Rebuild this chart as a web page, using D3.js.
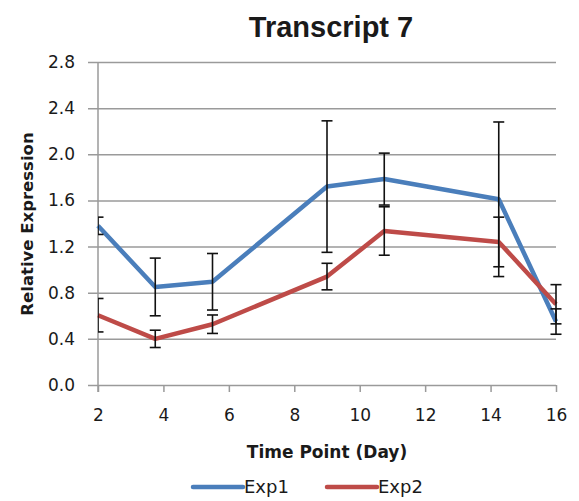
<!DOCTYPE html>
<html>
<head>
<meta charset="utf-8">
<script src="https://cdn.jsdelivr.net/npm/d3@7"></script>
<style>
  body { margin: 0; background: #fff; }
  text { fill: #1a1a1a; }
</style>
</head>
<body>
<div class="chart"></div>
<script>
var svgWidth = 579;
var svgHeight = 501;

// plot area edges
var margin = { top: 62, right: 23, bottom: 116, left: 98 };
var width = svgWidth - margin.left - margin.right;
var height = svgHeight - margin.top - margin.bottom;

// data
var days = [2, 3.75, 5.5, 9, 10.75, 14.25, 16];
var exp1 = [1.38, 0.85, 0.895, 1.72, 1.785, 1.61, 0.55];
var exp1Err = [0.075, 0.25, 0.245, 0.57, 0.225, 0.67, 0.11];
var exp2 = [0.605, 0.40, 0.527, 0.94, 1.335, 1.24, 0.70];
var exp2Err = [0.145, 0.075, 0.08, 0.115, 0.21, 0.215, 0.17];
var xTicks = [2, 4, 6, 8, 10, 12, 14, 16];
var yTicks = [0, 0.4, 0.8, 1.2, 1.6, 2.0, 2.4, 2.8];

var series = [
  { name: "Exp1", values: exp1, err: exp1Err, color: "#4a7ebb" },
  { name: "Exp2", values: exp2, err: exp2Err, color: "#be4b48" }
];

var svg = d3.select(".chart")
  .append("svg")
  .attr("width", svgWidth)
  .attr("height", svgHeight);

var chartGroup = svg.append("g")
  .attr("transform", `translate(${margin.left}, ${margin.top})`);

var xScale = d3.scaleLinear().domain([2, 16]).range([0, width]);
var yScale = d3.scaleLinear().domain([0, 2.8]).range([height, 0]);

// gridlines (also act as the y ticks)
var leftAxis = d3.axisLeft(yScale)
  .tickValues(yTicks)
  .tickSize(-width - 10)
  .tickPadding(0)
  .tickFormat(d3.format(".1f"));

var yAxis = chartGroup.append("g")
  .attr("transform", "translate(-10, 0)")
  .call(leftAxis);
yAxis.select(".domain").remove();
yAxis.selectAll(".tick line")
  .attr("x1", 0)
  .attr("stroke", "#9a9a9a")
  .attr("stroke-width", 1.5);
yAxis.selectAll(".tick text")
  .attr("x", -13)
  .attr("font-family", "DejaVu Sans")
  .attr("font-size", 17)
  .attr("fill", "#1a1a1a");

// x axis
var bottomAxis = d3.axisBottom(xScale)
  .tickValues(xTicks)
  .tickSize(7)
  .tickSizeOuter(0)
  .tickPadding(24);
var xAxis = chartGroup.append("g")
  .attr("transform", `translate(0, ${height})`)
  .call(bottomAxis);
xAxis.select(".domain").remove();
xAxis.selectAll(".tick line")
  .attr("stroke", "#9a9a9a")
  .attr("stroke-width", 1.5);
xAxis.selectAll(".tick text")
  .attr("font-family", "DejaVu Sans")
  .attr("font-size", 17)
  .attr("dy", "0.3em")
  .attr("fill", "#1a1a1a");

// vertical axis line
chartGroup.append("line")
  .attr("x1", xScale(2)).attr("x2", xScale(2))
  .attr("y1", 0).attr("y2", height + 7)
  .attr("stroke", "#9a9a9a")
  .attr("stroke-width", 1.5);

// clip so the first error bars show only their right half
chartGroup.append("clipPath")
  .attr("id", "plotClip")
  .append("rect")
  .attr("x", 0).attr("y", -10)
  .attr("width", width + 10).attr("height", height + 20);

var line = d3.line()
  .x((d, i) => xScale(days[i]))
  .y(d => yScale(d));

series.forEach(function(s) {
  var g = chartGroup.append("g");

  g.append("path")
    .datum(s.values)
    .attr("fill", "none")
    .attr("stroke", s.color)
    .attr("stroke-width", 4.5)
    .attr("stroke-linejoin", "round")
    .attr("d", line);

  var errGroup = g.append("g")
    .attr("clip-path", "url(#plotClip)")
    .attr("stroke", "#111")
    .attr("stroke-width", 1.6);

  var bars = errGroup.selectAll("g")
    .data(s.values.map((v, i) => ({ x: days[i], v: v, e: s.err[i] })))
    .enter().append("g");

  bars.append("line")
    .attr("x1", d => xScale(d.x)).attr("x2", d => xScale(d.x))
    .attr("y1", d => yScale(d.v + d.e)).attr("y2", d => yScale(d.v - d.e));
  bars.append("line")
    .attr("x1", d => xScale(d.x) - 5.5).attr("x2", d => xScale(d.x) + 5.5)
    .attr("y1", d => yScale(d.v + d.e)).attr("y2", d => yScale(d.v + d.e));
  bars.append("line")
    .attr("x1", d => xScale(d.x) - 5.5).attr("x2", d => xScale(d.x) + 5.5)
    .attr("y1", d => yScale(d.v - d.e)).attr("y2", d => yScale(d.v - d.e));
});

// title
svg.append("text")
  .attr("x", 331)
  .attr("y", 37)
  .attr("text-anchor", "middle")
  .attr("font-family", "Liberation Sans, Arial, sans-serif")
  .attr("font-weight", "bold")
  .attr("font-size", 29)
  .text("Transcript 7");

// axis titles
svg.append("text")
  .attr("x", 327)
  .attr("y", 458)
  .attr("text-anchor", "middle")
  .attr("font-family", "DejaVu Sans")
  .attr("font-weight", "bold")
  .attr("font-size", 17)
  .text("Time Point (Day)");

svg.append("text")
  .attr("transform", "translate(33, 224) rotate(-90)")
  .attr("text-anchor", "middle")
  .attr("font-family", "DejaVu Sans")
  .attr("font-weight", "bold")
  .attr("font-size", 16.5)
  .text("Relative Expression");

// legend
var legendX = [193, 327];
var legend = svg.selectAll(".legend")
  .data(series)
  .enter().append("g")
  .attr("class", "legend")
  .attr("transform", (d, i) => `translate(${legendX[i]}, 487)`);

legend.append("line")
  .attr("x1", 0).attr("x2", 50)
  .attr("stroke", d => d.color)
  .attr("stroke-width", 4.5)
  .attr("stroke-linecap", "round");

legend.append("text")
  .attr("x", 51)
  .attr("dy", "0.35em")
  .attr("font-family", "DejaVu Sans")
  .attr("font-size", 18)
  .text(d => d.name);
</script>
</body>
</html>
